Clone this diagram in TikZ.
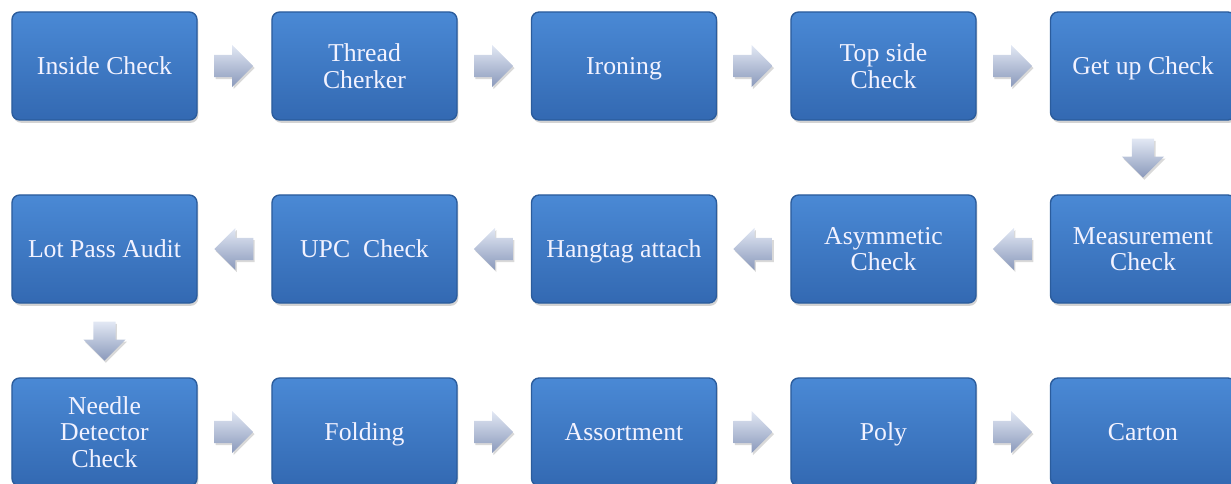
\documentclass[tikz,border=0pt]{standalone}
\usepackage{fontspec}
\setmainfont{Liberation Serif}
\usetikzlibrary{shapes.arrows, shadows, calc}

\definecolor{boxtop}{HTML}{4A89D5}
\definecolor{boxmid}{HTML}{3C7BC7}
\definecolor{boxbottom}{HTML}{3369B2}
\definecolor{boxedge}{HTML}{2B5C9C}
\definecolor{arrowlight}{HTML}{E2E8F4}
\definecolor{arrowdark}{HTML}{8A99BB}

\begin{document}
\begin{tikzpicture}[x=0.025cm, y=-0.025cm,
    stepbox/.style={rectangle, rounded corners=5.5pt,
      minimum width=4.625cm, minimum height=2.7cm, inner sep=2pt,
      top color=boxtop, middle color=boxmid, bottom color=boxbottom,
      draw=boxedge, line width=1pt,
      text=white!95!blue, align=center, font=\fontsize{18.3}{18.8}\selectfont,
      drop shadow={shadow xshift=1pt, shadow yshift=-2pt, opacity=0.35}},
    oneline/.style={stepbox, text height=17pt, text depth=4.2pt},
    flowarrow/.style={single arrow, anchor=tail, inner xsep=0pt, inner ysep=0.27cm,
      minimum height=0.975cm, minimum width=1.05cm,
      single arrow head extend=0.25cm,
      top color=arrowlight, bottom color=arrowdark, draw=none,
      drop shadow={shadow xshift=1pt, shadow yshift=-1.5pt, opacity=0.3}},
    leftarrow/.style={flowarrow, shape border rotate=180},
    downarrow/.style={flowarrow, shape border rotate=270,
      inner xsep=0.27cm, inner ysep=0pt}]
  \useasboundingbox (0,0) rectangle (1231,484);

  % First row, left to right
  \node[oneline] (inside)  at (104.5,66) {Inside Check};
  \node[stepbox] (thread)  at (364.5,66) {Thread\\Cherker};
  \node[oneline] (ironing) at (624,66)   {Ironing};
  \node[stepbox] (topside) at (883.5,66) {Top side\\Check};
  \node[oneline] (getup)   at (1143,66)  {Get up Check};

  % Second row, right to left
  \node[stepbox] (measure) at (1143,249)  {Measurement\\Check};
  \node[stepbox] (asym)    at (883.5,249) {Asymmetic\\Check};
  \node[oneline] (hangtag) at (624,249)   {Hangtag attach};
  \node[oneline] (upc)     at (364.5,249) {UPC\ \ Check};
  \node[oneline] (lotpass) at (104.5,249) {Lot Pass Audit};

  % Third row, left to right
  \node[stepbox] (needle)  at (104.5,432) {Needle\\Detector\\Check};
  \node[oneline] (folding) at (364.5,432) {Folding};
  \node[oneline] (assort)  at (624,432)   {Assortment};
  \node[oneline] (poly)    at (883.5,432) {Poly};
  \node[oneline] (carton)  at (1143,432)  {Carton};

  % Block arrows between the steps
  \node[flowarrow] (a1)  at ($(inside.east)!0.22!(thread.west)$) {};
  \node[flowarrow] (a2)  at ($(thread.east)!0.22!(ironing.west)$) {};
  \node[flowarrow] (a3)  at ($(ironing.east)!0.22!(topside.west)$) {};
  \node[flowarrow] (a4)  at ($(topside.east)!0.22!(getup.west)$) {};
  \node[downarrow] (a5)  at ($(getup.south)!0.24!(measure.north)$) {};
  \node[leftarrow] (a6)  at ($(measure.west)!0.24!(asym.east)$) {};
  \node[leftarrow] (a7)  at ($(asym.west)!0.24!(hangtag.east)$) {};
  \node[leftarrow] (a8)  at ($(hangtag.west)!0.24!(upc.east)$) {};
  \node[leftarrow] (a9)  at ($(upc.west)!0.24!(lotpass.east)$) {};
  \node[downarrow] (a10) at ($(lotpass.south)!0.24!(needle.north)$) {};
  \node[flowarrow] (a11) at ($(needle.east)!0.22!(folding.west)$) {};
  \node[flowarrow] (a12) at ($(folding.east)!0.22!(assort.west)$) {};
  \node[flowarrow] (a13) at ($(assort.east)!0.22!(poly.west)$) {};
  \node[flowarrow] (a14) at ($(poly.east)!0.22!(carton.west)$) {};
\end{tikzpicture}
\end{document}
